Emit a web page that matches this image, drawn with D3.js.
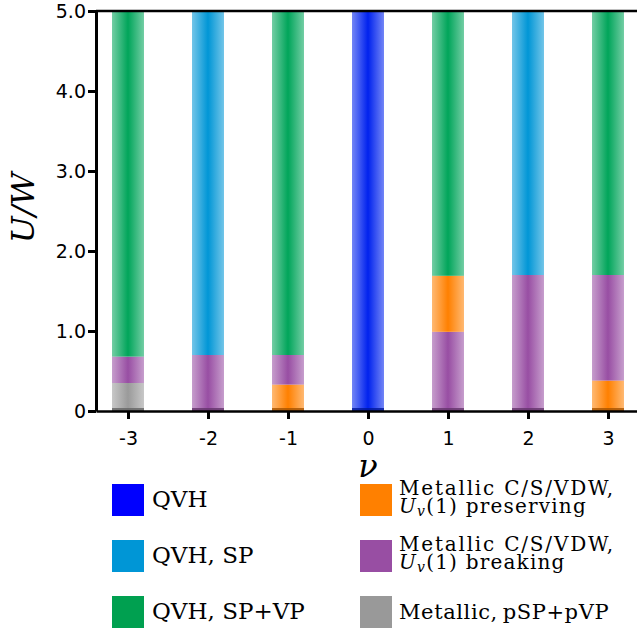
<!DOCTYPE html>
<html>
<head>
<meta charset="utf-8">
<script src="https://cdn.jsdelivr.net/npm/d3@7"></script>
<style>
  body { margin: 0; background: #fff; }
  svg { display: block; }
</style>
</head>
<body>
<svg id="chart"></svg>
<script>
// filling factors
const nuValues = [-3, -2, -1, 0, 1, 2, 3];
const nuLabels = ['-3', '-2', '-1', '0', '1', '2', '3'];
const yTicks = [0, 1, 2, 3, 4, 5];
const yTickLabels = ['0', '1.0', '2.0', '3.0', '4.0', '5.0'];

// phase boundaries per nu: [phase, from, to]
const nuM3 = [['gray', 0, 0.35], ['purple', 0.35, 0.68], ['green', 0.68, 5]];
const nuM2 = [['purple', 0, 0.7], ['sky', 0.7, 5]];
const nuM1 = [['orange', 0, 0.33], ['purple', 0.33, 0.7], ['green', 0.7, 5]];
const nu0 = [['blue', 0, 5]];
const nuP1 = [['purple', 0, 0.99], ['orange', 0.99, 1.69], ['green', 1.69, 5]];
const nuP2 = [['purple', 0, 1.7], ['sky', 1.7, 5]];
const nuP3 = [['orange', 0, 0.38], ['purple', 0.38, 1.7], ['green', 1.7, 5]];
const segmentsByNu = [nuM3, nuM2, nuM1, nu0, nuP1, nuP2, nuP3];

const phaseKeys = ['blue', 'sky', 'green', 'orange', 'purple', 'gray'];
const phaseColors = ['#0022ee', '#0096d6', '#00a55a', '#ff8000', '#984ea3', '#9a9a9a'];
const legendColors = ['#0000ff', '#0096d6', '#00a050', '#ff8000', '#984ea3', '#999999'];

const width = 637, height = 631;
const plotTop = 11, plotBottom = 411, plotLeft = 96;

const svg = d3.select('#chart').attr('width', width).attr('height', height);

const x = d3.scaleLinear().domain([-3.4, 3.4]).range([plotLeft, 640]);
const y = d3.scaleLinear().domain([0, 5]).range([plotBottom, plotTop]);
const color = d3.scaleOrdinal().domain(phaseKeys).range(phaseColors);
const barW = x(0.4) - x(0);

// gradients: light at edges, saturated in the middle
const defs = svg.append('defs');
phaseKeys.forEach(k => {
  const g = defs.append('linearGradient')
    .attr('id', 'grad-' + k)
    .attr('x1', '0%').attr('x2', '100%').attr('y1', '0%').attr('y2', '0%');
  g.append('stop').attr('offset', '0%').attr('stop-color', color(k)).attr('stop-opacity', 0.55);
  g.append('stop').attr('offset', '50%').attr('stop-color', color(k)).attr('stop-opacity', 1);
  g.append('stop').attr('offset', '100%').attr('stop-color', color(k)).attr('stop-opacity', 0.55);
});

const segs = segmentsByNu.flatMap((list, i) =>
  list.map(([phase, lo, hi]) => ({ nu: nuValues[i], phase, lo, hi })));

svg.append('g').selectAll('rect')
  .data(segs)
  .join('rect')
  .attr('x', d => x(d.nu) - barW / 2)
  .attr('width', barW)
  .attr('y', d => y(d.hi))
  .attr('height', d => y(d.lo) - y(d.hi))
  .attr('fill', d => `url(#grad-${d.phase})`);

// thin darker edge at the bottom of each bar
svg.append('g').selectAll('rect')
  .data(segs.filter(d => d.lo === 0))
  .join('rect')
  .attr('x', d => x(d.nu) - barW / 2)
  .attr('width', barW)
  .attr('y', y(0) - 3)
  .attr('height', 3)
  .attr('fill', d => d3.color(color(d.phase)).darker(1.2))
  .attr('opacity', 0.8);

// axes
const tickFont = '"DejaVu Sans", Verdana, sans-serif';

const xAxis = svg.append('g')
  .attr('transform', `translate(0, ${plotBottom})`)
  .call(d3.axisBottom(x).tickValues(nuValues).tickFormat((d, i) => nuLabels[i]).tickSize(8).tickSizeOuter(0));
xAxis.select('.domain').attr('stroke-width', 2.5);
xAxis.selectAll('.tick line').attr('stroke-width', 3);
xAxis.selectAll('.tick text')
  .attr('font-family', tickFont).attr('font-size', 19).attr('dy', '1.2em').attr('fill', '#000');

const yAxis = svg.append('g')
  .attr('transform', `translate(${plotLeft}, 0)`)
  .call(d3.axisLeft(y).tickValues(yTicks).tickFormat((d, i) => yTickLabels[i]).tickSize(8).tickSizeOuter(0));
yAxis.select('.domain').attr('stroke-width', 3);
yAxis.selectAll('.tick line').attr('stroke-width', 3);
yAxis.selectAll('.tick text')
  .attr('font-family', tickFont).attr('font-size', 19).attr('x', -10).attr('fill', '#000');

// top frame line
svg.append('line')
  .attr('x1', plotLeft).attr('x2', width).attr('y1', y(5)).attr('y2', y(5))
  .attr('stroke', '#000').attr('stroke-width', 2.5);

// axis labels
const serif = '"DejaVu Serif", "Liberation Serif", serif';

svg.append('text')
  .attr('transform', `translate(34, 208) rotate(-90)`)
  .attr('text-anchor', 'middle')
  .attr('font-family', serif)
  .attr('font-style', 'italic')
  .attr('font-size', 32)
  .text('U/W');

svg.append('text')
  .attr('x', 368).attr('y', 477)
  .attr('text-anchor', 'middle')
  .attr('font-family', serif)
  .attr('font-style', 'italic')
  .attr('font-size', 32)
  .text('ν');

// legend
const legendItems = [
  { key: 'blue', col: 0, row: 0, lines: ['QVH'] },
  { key: 'sky', col: 0, row: 1, lines: ['QVH, SP'] },
  { key: 'green', col: 0, row: 2, lines: ['QVH, SP+VP'] },
  { key: 'orange', col: 1, row: 0, lines: ['Metallic C/S/VDW,', 'preserving'] },
  { key: 'purple', col: 1, row: 1, lines: ['Metallic C/S/VDW,', 'breaking'] },
  { key: 'gray', col: 1, row: 2, lines: ['Metallic,\u2009pSP+pVP'] }
];
const legendColor = d3.scaleOrdinal().domain(phaseKeys).range(legendColors);
const colX = [112, 360];
const rowY = [484, 540, 596];

const leg = svg.append('g').selectAll('g')
  .data(legendItems)
  .join('g')
  .attr('transform', d => `translate(${colX[d.col]}, ${rowY[d.row]})`);

leg.append('rect')
  .attr('width', 32).attr('height', 32)
  .attr('fill', d => legendColor(d.key));

leg.each(function (d) {
  const g = d3.select(this);
  if (d.lines.length === 1) {
    g.append('text').attr('x', d.col === 0 ? 40 : 39).attr('y', 23)
      .attr('font-family', serif).attr('font-size', d.col === 0 ? 23 : 21)
      .attr('letter-spacing', d.col === 0 ? 0 : 0.6)
      .text(d.lines[0]);
  } else {
    g.append('text').attr('x', 39).attr('y', 11)
      .attr('font-family', serif).attr('font-size', 20).attr('letter-spacing', 1.8)
      .text(d.lines[0]);
    const t = g.append('text').attr('x', 39).attr('y', 29)
      .attr('font-family', serif).attr('font-size', 20).attr('letter-spacing', 1.2);
    t.append('tspan').attr('font-style', 'italic').text('U');
    t.append('tspan').attr('font-style', 'italic').attr('font-size', 14).attr('dy', 3).text('v');
    t.append('tspan').attr('dy', -3).text('(1) ' + d.lines[1]);
  }
});
</script>
</body>
</html>
